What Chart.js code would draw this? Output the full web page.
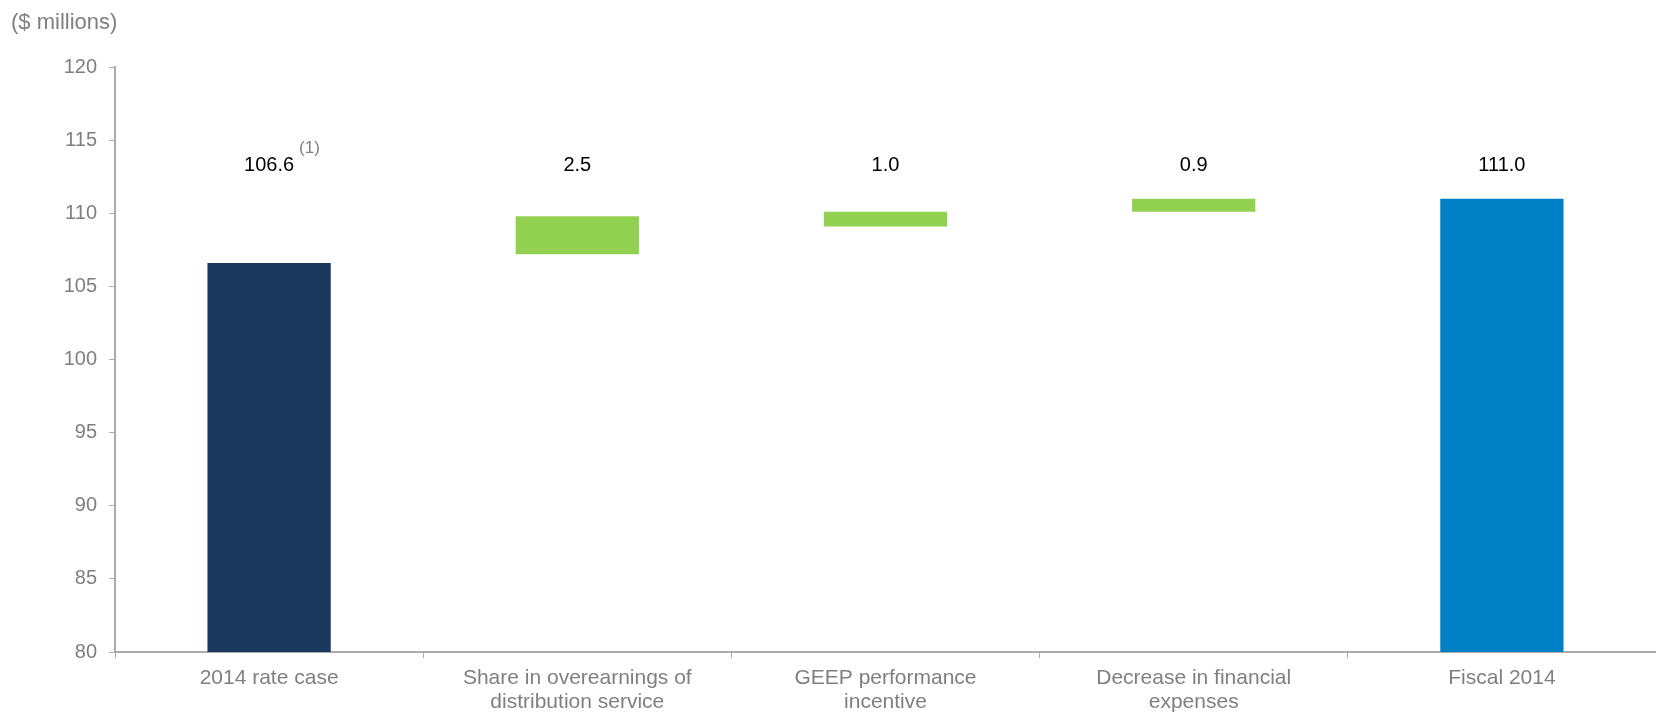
<!DOCTYPE html>
<html>
<head>
<meta charset="utf-8">
<script src="https://cdn.jsdelivr.net/npm/chart.js@4.4.1/dist/chart.umd.min.js"></script>
<style>
    html, body { margin: 0; padding: 0; background: #fff; }
    #wrap { position: relative; width: 1656px; height: 713px; }
</style>
</head>
<body>
<div id="wrap"><canvas id="bridgeChart"></canvas></div>
<script>
// Données
const categories = [
    '2014 rate case',
    ['Share in overearnings of', 'distribution service'],
    ['GEEP performance', 'incentive'],
    ['Decrease in financial', 'expenses'],
    'Fiscal 2014'
];
const barStarts = [80, 107.2, 109.1, 110.1, 80];
const barEnds = [106.6, 109.8, 110.1, 111.0, 111.0];
const valueLabels = ['106.6', '2.5', '1.0', '0.9', '111.0'];
const barColors = ['#1A375D', '#92D050', '#92D050', '#92D050', '#0081C6'];
const yTicks = [80, 85, 90, 95, 100, 105, 110, 115, 120];

const GREY = '#7F7F7F';
const AXIS = '#ABABAB';
const FONT = 'Arial, "Liberation Sans", sans-serif';

/**
 * Textes hors graphique : unité, valeurs au-dessus des barres, renvoi (1)
 */
const annotationsPlugin = {
    id: 'annotations',
    afterDatasetsDraw(chart) {
        const ctx = chart.ctx;
        const meta = chart.getDatasetMeta(0);
        const y = chart.scales.y;
        ctx.save();

        ctx.font = '22px ' + FONT;
        ctx.fillStyle = GREY;
        ctx.textAlign = 'left';
        ctx.textBaseline = 'middle';
        ctx.fillText('($ millions)', 11, 23);

        ctx.font = '20px ' + FONT;
        ctx.fillStyle = '#000';
        ctx.textAlign = 'center';
        const labelY = y.getPixelForValue(113.3);
        meta.data.forEach((bar, i) => {
            ctx.fillText(valueLabels[i], bar.x, labelY);
        });

        // Renvoi de note sur la première valeur
        ctx.font = '17px ' + FONT;
        ctx.fillStyle = GREY;
        ctx.textAlign = 'left';
        ctx.fillText('(1)', meta.data[0].x + 30, labelY - 17);
        ctx.restore();
    }
};

const ctx = document.getElementById('bridgeChart');
new Chart(ctx.getContext('2d'), {
    type: 'bar',
    data: {
        labels: categories,
        datasets: [{
            data: barStarts.map((s, i) => [s, barEnds[i]]),
            backgroundColor: barColors,
            borderWidth: 0,
            barPercentage: 0.4,
            categoryPercentage: 1
        }]
    },
    options: {
        responsive: true,
        maintainAspectRatio: false,
        animation: false,
        layout: {
            padding: { top: 67, left: 0, right: 0, bottom: 0 }
        },
        plugins: {
            legend: { display: false },
            tooltip: { enabled: false }
        },
        scales: {
            x: {
                offset: true,
                grid: {
                    display: true,
                    offset: true,
                    drawOnChartArea: false,
                    drawTicks: true,
                    tickLength: 6,
                    color: AXIS
                },
                border: { display: true, color: AXIS, width: 2, dash: [1, 1] },
                ticks: {
                    color: GREY,
                    padding: 8,
                    maxRotation: 0,
                    autoSkip: false,
                    font: { family: FONT, size: 21, lineHeight: 1.15 }
                },
                afterFit(scale) { scale.height = 61; }
            },
            y: {
                min: 80,
                max: 120,
                afterBuildTicks(scale) {
                    scale.ticks = yTicks.map(v => ({ value: v }));
                },
                grid: {
                    display: true,
                    drawOnChartArea: false,
                    drawTicks: true,
                    tickLength: 6,
                    color: AXIS
                },
                border: { display: true, color: AXIS, width: 2, dash: [1, 1] },
                ticks: {
                    color: GREY,
                    padding: 12,
                    font: { family: FONT, size: 20 }
                },
                afterFit(scale) { scale.width = 115; }
            }
        }
    },
    plugins: [annotationsPlugin]
});
</script>
</body>
</html>
